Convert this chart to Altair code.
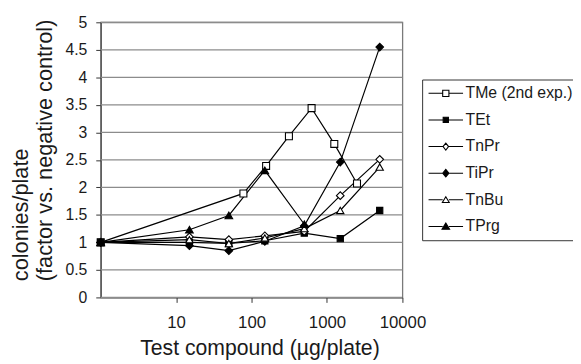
import altair as alt
import pandas as pd

series_names = ["TMe (2nd exp.)", "TEt", "TnPr", "TiPr", "TnBu", "TPrg"]

tme_x = [1, 78, 156, 313, 625, 1250, 2500]
tme_y = [1.0, 1.89, 2.39, 2.93, 3.44, 2.79, 2.07]

tet_x = [1, 15, 50, 150, 500, 1500, 5000]
tet_y = [1.0, 1.0, 0.98, 1.03, 1.17, 1.07, 1.58]

tnpr_x = [1, 15, 50, 150, 500, 1500, 5000]
tnpr_y = [1.0, 1.1, 1.05, 1.12, 1.2, 1.85, 2.51]

tipr_x = [1, 15, 50, 150, 500, 1500, 5000]
tipr_y = [1.0, 0.94, 0.85, 1.02, 1.3, 2.46, 4.55]

tnbu_x = [1, 15, 50, 150, 500, 1500, 5000]
tnbu_y = [1.0, 1.05, 0.98, 1.08, 1.25, 1.58, 2.37]

tprg_x = [1, 15, 50, 150, 500]
tprg_y = [1.0, 1.23, 1.49, 2.31, 1.33]

x_ticks = [10, 100, 1000, 10000]
x_range = [1, 10000]
y_ticks = [0, 0.5, 1, 1.5, 2, 2.5, 3, 3.5, 4, 4.5, 5]

all_x = [tme_x, tet_x, tnpr_x, tipr_x, tnbu_x, tprg_x]
all_y = [tme_y, tet_y, tnpr_y, tipr_y, tnbu_y, tprg_y]
rows = []
for name, xs, ys in zip(series_names, all_x, all_y):
    for xv, yv in zip(xs, ys):
        rows.append({"series": name, "x": xv, "y": yv})
df = pd.DataFrame(rows)

grid_rows = []
for yv in y_ticks:
    for xv in x_range:
        grid_rows.append({"g": str(yv), "x": xv, "y": yv})
grid_df = pd.DataFrame(grid_rows)

plot_shapes = ["square", "square", "diamond", "diamond", "triangle-up", "triangle-up"]
plot_sizes = [50, 40, 60, 60, 55, 60]
legend_fills = ["white", "black", "white", "black", "white", "black"]

ln = "M-2.5,0H-0.45M0.45,0H2.5"
legend_paths = [
    ln + "M-0.45,-0.45H0.45V0.45H-0.45Z",
    ln + "M-0.38,-0.38H0.38V0.38H-0.38Z",
    ln + "M0,-0.5L0.4,0L0,0.5L-0.4,0Z",
    ln + "M0,-0.55L0.45,0L0,0.55L-0.45,0Z",
    ln + "M0,-0.45L0.5,0.4L-0.5,0.4Z",
    ln + "M0,-0.5L0.55,0.42L-0.55,0.42Z",
]

font = "Liberation Sans"

x_enc = alt.X(
    "x:Q",
    scale=alt.Scale(type="log", domain=[1, 10000]),
    axis=alt.Axis(
        values=x_ticks, format="d", grid=False,
        title="Test compound (\u00b5g/plate)",
        titleX=161, titleY=58, titleAlign="center", titleBaseline="alphabetic",
        titleFontSize=21.5, titleFontWeight="normal", titleFont=font, titleColor="#1a1a1a",
        labelFontSize=17, labelFont=font, labelColor="#1a1a1a",
        labelPadding=13, tickSize=5, tickColor="#333333", domainColor="#333333",
        labelFlush=False, labelOverlap=False,
    ),
)
y_axis = alt.Axis(
    values=y_ticks, format="~g", grid=False,
    title=["colonies/plate", "(factor vs. negative control)"],
    titleX=-91, titleY=262, titleAngle=270, titleAlign="left", titleBaseline="top",
    titleLineHeight=24,
    titleFontSize=22, titleFontWeight="normal", titleFont=font, titleColor="#1a1a1a",
    labelFontSize=16, labelFont=font, labelColor="#1a1a1a",
    labelPadding=9, tickSize=5, tickColor="#333333", domainColor="#333333",
    labelFlush=False, labelOverlap=False,
)
y_enc = alt.Y("y:Q", scale=alt.Scale(domain=[0, 5]), axis=y_axis)

grid = alt.Chart(grid_df).mark_line(color="#8c8c8c", strokeWidth=1.3).encode(
    x=x_enc, y=y_enc, detail="g:N"
)

base = alt.Chart(df).encode(x=x_enc, y=y_enc)

lines = base.mark_line(color="black", strokeWidth=1.2).encode(detail="series:N")

point_layers = []
for name, shp, sz, fl in zip(series_names, plot_shapes, plot_sizes, legend_fills):
    point_layers.append(
        base.transform_filter(alt.datum.series == name).mark_point(
            shape=shp, size=sz, filled=True, fill=fl, stroke="black",
            strokeWidth=1.1, opacity=1
        )
    )

legend_layer = base.transform_filter("datum.y > 100").mark_point(
    filled=True, strokeWidth=1.1, opacity=1
).encode(
    shape=alt.Shape("series:N", scale=alt.Scale(domain=series_names, range=legend_paths),
                    legend=alt.Legend(title=None)),
    fill=alt.Fill("series:N", scale=alt.Scale(domain=series_names, range=legend_fills),
                  legend=alt.Legend(title=None)),
    stroke=alt.Stroke("series:N", scale=alt.Scale(domain=series_names, range=["black"] * 6),
                      legend=alt.Legend(title=None)),
)

chart = alt.layer(grid, lines, *point_layers, legend_layer).properties(
    width=306, height=279,
    autosize=alt.AutoSizeParams(type="none"),
    padding={"left": 94, "top": 12, "right": 173, "bottom": 65},
).configure_view(
    stroke="#7a7a7a", strokeWidth=1.3
).configure_legend(
    orient="none", legendX=326, legendY=58,
    padding=6, strokeColor="#333333", fillColor="white",
    symbolSize=196, symbolStrokeColor="black", symbolStrokeWidth=1.1,
    symbolOffset=10, labelOffset=12, rowPadding=11,
    labelFontSize=16, labelFont=font, labelColor="#1a1a1a", labelLimit=300,
)

chart.save("out.html", embed_options={"renderer": "svg", "actions": False})
